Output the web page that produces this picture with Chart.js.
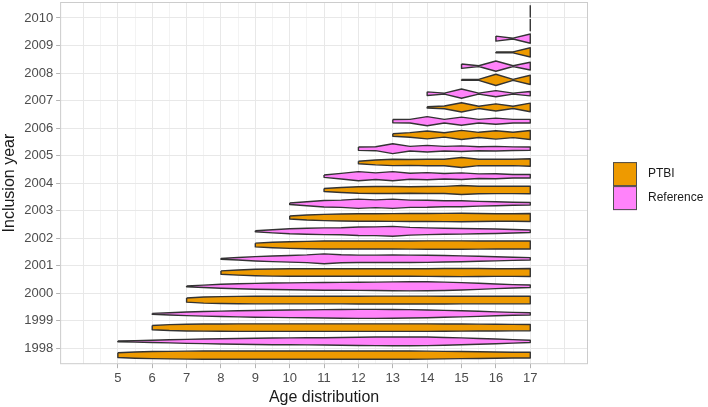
<!DOCTYPE html>
<html>
<head>
<meta charset="utf-8">
<script src="https://cdn.jsdelivr.net/npm/chart.js@4.4.1/dist/chart.umd.min.js"></script>
<style>
  body { margin: 0; background: #fff; }
</style>
</head>
<body>
<canvas id="violins" width="708" height="407"></canvas>
<script>
// inclusion years, bottom to top
var years = [1998, 1999, 2000, 2001, 2002, 2003, 2004, 2005, 2006, 2007, 2008, 2009, 2010];
// youngest age in each inclusion year, all run up to 17
var startAges = [5, 6, 7, 8, 9, 10, 11, 12, 13, 14, 15, 16, 17];
var ageStep = 0.5;
var xTickLabels = [5, 6, 7, 8, 9, 10, 11, 12, 13, 14, 15, 16, 17];

// violin half-widths, one per half year of age from the start age to 17
var ptbiDensity = [
  [2.3, 3, 3.4, 3.6, 3.8, 3.9, 4, 4, 4, 4, 4, 4, 4, 4, 4, 4, 4, 4, 3.8, 3.6, 3.4, 3.2, 3, 2.8, 2.7],
  [2, 2.8, 3.2, 3.4, 3.5, 3.6, 3.6, 3.6, 3.6, 3.6, 3.6, 3.6, 3.6, 3.6, 3.6, 3.6, 3.6, 3.5, 3.4, 3.3, 3.2, 3.1, 3],
  [2, 2.9, 3.3, 3.5, 3.6, 3.6, 3.6, 3.6, 3.6, 3.6, 3.7, 3.8, 3.8, 3.8, 3.8, 3.7, 3.6, 3.6, 3.6, 3.6, 3.6],
  [1.6, 2.5, 3.1, 3.4, 3.6, 3.6, 3.6, 3.6, 3.6, 3.6, 3.6, 3.6, 3.7, 3.8, 3.9, 3.8, 3.7, 3.7, 3.8],
  [1.8, 2.6, 3.2, 3.5, 3.8, 3.8, 3.8, 3.8, 3.8, 3.9, 4, 4, 4, 3.9, 3.8, 3.8, 3.8],
  [1.4, 2.4, 3, 3.4, 3.6, 3.6, 3.7, 3.8, 3.8, 3.9, 4, 3.8, 3.6, 3.6, 3.8],
  [1.4, 2.4, 3.1, 3.3, 3.3, 3.1, 3.3, 3.4, 4.3, 3.6, 3.5, 3.5, 3.6],
  [1.2, 2.3, 3, 2.8, 3.1, 3.1, 4.8, 3, 3.2, 3, 3.6],
  [1.2, 2.2, 3.8, 2.1, 4.4, 2.5, 4, 2.6, 4.3],
  [0.6, 1.3, 4.4, 1.1, 3.4, 1.1, 4.1],
  [0.4, 0.5, 5.4, 0.5, 4.4],
  [0.4, 0.5, 4.4],
  [5.6]
];
var referenceDensity = [
  [0.4, 0.7, 1.1, 1.5, 1.9, 2.2, 2.5, 2.8, 3, 3.2, 3.3, 3.4, 3.5, 3.7, 3.9, 4.1, 4.2, 4.2, 4.1, 3.7, 3.3, 2.8, 2.3, 1.7, 1.1],
  [0.4, 1.1, 1.7, 2.2, 2.6, 2.9, 3.2, 3.4, 3.6, 3.8, 4, 4.2, 4.3, 4.3, 4.2, 4, 3.7, 3.3, 2.9, 2.4, 1.9, 1.4, 1.1],
  [0.4, 1.1, 1.9, 2.4, 2.8, 3.1, 3.3, 3.5, 3.7, 3.8, 3.9, 4, 4.2, 4.4, 4.3, 4, 3.5, 2.9, 2.2, 1.6, 1.2],
  [0.4, 1.2, 2.1, 2.7, 3.2, 3.7, 4.7, 3.8, 3.5, 3.5, 3.6, 3.5, 3.4, 3.1, 2.8, 2.4, 2, 1.5, 1.1],
  [0.5, 1.5, 2.4, 2.9, 3.2, 3.4, 4.1, 4.2, 4.7, 3.7, 3.2, 2.9, 2.7, 2.4, 2.1, 1.7, 1.2],
  [0.7, 1.9, 3.1, 3.5, 4.4, 3.7, 4.4, 3.5, 3.4, 2.9, 2.9, 2.3, 1.9, 1.4, 1.2],
  [1.1, 2.7, 4.4, 3.2, 4.4, 2.9, 3.4, 2.6, 3.2, 2.2, 2.4, 1.7, 1.7],
  [1.6, 1.9, 4.7, 2.2, 3.2, 2.2, 2.7, 1.9, 2.2, 1.7, 1.6],
  [1.6, 1.7, 4.4, 1.7, 3.9, 1.7, 2.9, 1.7, 1.7],
  [1.7, 0.5, 4.4, 0.5, 2.9, 0.5, 2.1],
  [2.1, 0.4, 4.9, 0.4, 3.7],
  [2.4, 0.4, 4.4],
  [5.6]
];

var groupNames = ['PTBI', 'Reference'];
var groupColors = ['#EE9A00', '#FF83FA'];
var outline = '#333333';

var densityScale = 0.038; // density units -> years on the y axis
var dodge = 0.25;         // PTBI below the year line, Reference above

// closed outline: top edge left->right, bottom edge back, then close
function violinPoints(centre, start, dens) {
  var top = [], bottom = [];
  dens.forEach(function (d, i) {
    var age = start + i * ageStep;
    top.push({ x: age, y: centre + d * densityScale });
    bottom.unshift({ x: age, y: centre - d * densityScale });
  });
  var pts = top.concat(bottom);
  pts.push(pts[0]);
  return pts;
}

var datasets = [];
years.forEach(function (yr, i) {
  [ptbiDensity, referenceDensity].forEach(function (dens, g) {
    datasets.push({
      label: groupNames[g] + ' ' + yr,
      data: violinPoints(yr + (g === 0 ? -dodge : dodge), startAges[i], dens[i]),
      backgroundColor: groupColors[g],
      borderColor: outline,
      borderWidth: 1.4,
      borderJoinStyle: 'round',
      fill: 'shape',
      pointRadius: 0,
      tension: 0
    });
  });
});

var xGrid = [];
for (var v = 4; v <= 18; v += 0.5) xGrid.push(v);

var panelBorder = {
  id: 'panelBorder',
  beforeDatasetsDraw: function (chart) {
    var a = chart.chartArea, ctx = chart.ctx;
    ctx.save();
    ctx.strokeStyle = '#cccccc';
    ctx.lineWidth = 1;
    ctx.strokeRect(a.left + 0.5, a.top + 0.5, a.right - a.left - 1, a.bottom - a.top - 1);
    ctx.restore();
  }
};

var sideLegend = {
  id: 'sideLegend',
  afterDraw: function (chart) {
    var a = chart.chartArea, ctx = chart.ctx;
    var x = a.right + 25;
    var y = (a.top + a.bottom) / 2 - 21;
    ctx.save();
    groupNames.forEach(function (name, g) {
      var by = y + g * 24;
      ctx.fillStyle = groupColors[g];
      ctx.fillRect(x, by, 24, 24);
      ctx.strokeStyle = '#4d4d4d';
      ctx.lineWidth = 1;
      ctx.strokeRect(x + 0.5, by + 0.5, 23, 23);
      ctx.fillStyle = '#1a1a1a';
      ctx.font = '12px "Liberation Sans", Arial, sans-serif';
      ctx.textBaseline = 'middle';
      ctx.fillText(name, x + 35, by + 12);
    });
    ctx.restore();
  }
};

var ctx = document.getElementById('violins').getContext('2d');
var chart = new Chart(ctx, {
  type: 'line',
  data: { datasets: datasets },
  plugins: [panelBorder, sideLegend],
  options: {
    responsive: false,
    animation: false,
    layout: { autoPadding: false, padding: { top: 2, right: 120, left: 0, bottom: 0 } },
    font: { family: '"Liberation Sans", Arial, sans-serif' },
    plugins: {
      legend: { display: false },
      tooltip: { enabled: false }
    },
    scales: {
      x: {
        type: 'linear',
        min: 3.32,
        max: 18.68,
        afterBuildTicks: function (axis) {
          axis.ticks = xGrid.map(function (v) { return { value: v }; });
        },
        afterFit: function (axis) {
          axis.paddingLeft = 0;
          axis.paddingRight = 0;
        },
        ticks: {
          autoSkip: false,
          maxRotation: 0,
          color: '#4d4d4d',
          font: { size: 13, family: '"Liberation Sans", Arial, sans-serif' },
          padding: 2,
          callback: function (value) {
            return xTickLabels.indexOf(value) >= 0 ? String(value) : '';
          }
        },
        grid: {
          color: function (c) {
            return c.tick && c.tick.value % 1 === 0 ? '#e8e8e8' : '#f3f3f3';
          },
          tickColor: function (c) {
            return c.tick && xTickLabels.indexOf(c.tick.value) >= 0 ? '#b3b3b3' : 'rgba(0,0,0,0)';
          },
          tickLength: 4
        },
        border: { display: false },
        title: {
          display: true,
          text: 'Age distribution',
          color: '#1a1a1a',
          font: { size: 16, family: '"Liberation Sans", Arial, sans-serif' },
          padding: { top: 0, bottom: 0 }
        }
      },
      y: {
        type: 'linear',
        min: 1997.42,
        max: 2010.58,
        afterBuildTicks: function (axis) {
          axis.ticks = years.map(function (v) { return { value: v }; });
        },
        afterFit: function (axis) {
          // year labels sit well inside the panel, no room needed for overhang
          axis.paddingTop = 0;
          axis.paddingBottom = 0;
        },
        ticks: {
          color: '#4d4d4d',
          font: { size: 13, family: '"Liberation Sans", Arial, sans-serif' },
          padding: 3,
          callback: function (value) { return String(value); }
        },
        grid: {
          color: '#e8e8e8',
          tickColor: '#b3b3b3',
          tickLength: 4
        },
        border: { display: false },
        title: {
          display: true,
          text: 'Inclusion year',
          color: '#1a1a1a',
          font: { size: 16, family: '"Liberation Sans", Arial, sans-serif' },
          padding: { top: 0, bottom: 2 }
        }
      }
    }
  }
});
</script>
</body>
</html>
